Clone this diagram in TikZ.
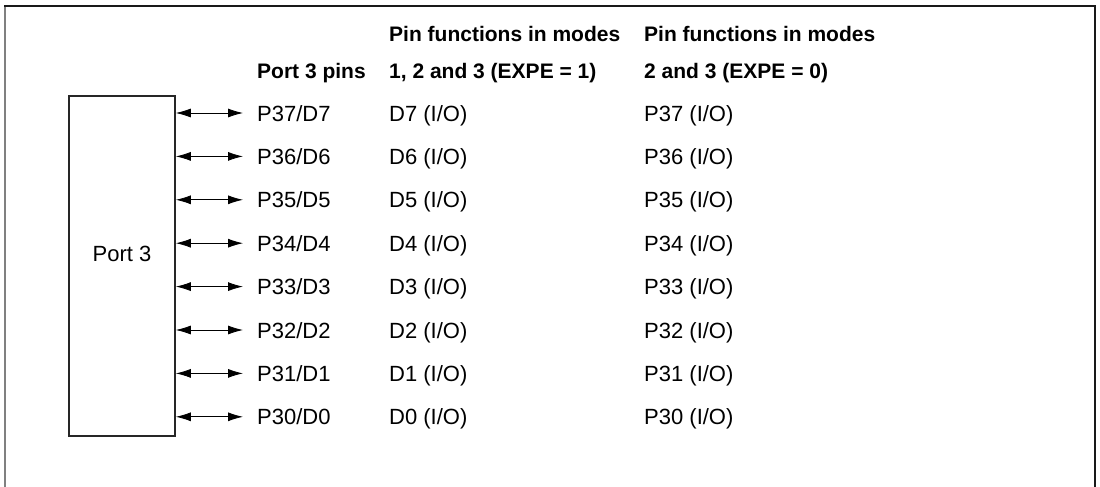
\documentclass[tikz,border=0pt]{standalone}
\usepackage{fontspec}
\setmainfont{Liberation Sans}
\usetikzlibrary{arrows.meta, positioning}

\begin{document}
\begin{tikzpicture}[x=1pt, y=-1pt,
		pinlabel/.style={anchor=west, inner xsep=14pt, inner ysep=0pt, text height=16pt, text depth=0pt, font=\fontsize{22}{26}\selectfont},
		funclabel/.style={anchor=west, inner sep=0pt, text height=16pt, text depth=0pt, font=\fontsize{22}{26}\selectfont},
		headlabel/.style={anchor=base west, inner sep=0pt, align=left, font=\bfseries\fontsize{21}{37}\selectfont},
		portbox/.style={draw=black!85, line width=1.6pt, minimum width=106pt, minimum height=340pt, inner sep=0pt},
		pinarrow/.style={{Latex[length=15pt,width=9pt]}-{Latex[length=15pt,width=9pt]}, line width=0.8pt}]
			% Rahmen
			\useasboundingbox (0,0) rectangle (1100,487);
			\draw[gray, line width=2pt] (5,487) -- (5,6);
			\draw[black!90, line width=1.5pt] (4,6) -- (1095,6) -- (1095,487);
			
			% Port-Block
			\node[portbox] (port) at (122,266) {};
			\node[font=\fontsize{22}{26}\selectfont] (portname) at (122,254) {Port 3};
			
			% Kopfzeilen
			\node[headlabel] (pinhead) at (257,78) {Port 3 pins};
			\node[headlabel] (exphead) at (389,78) {Pin functions in modes\\1, 2 and 3 (EXPE = 1)};
			\node[headlabel] (sglhead) at (644,78) {Pin functions in modes\\2 and 3 (EXPE = 0)};
			
			% Pins und Funktionen
			\foreach \n [count=\i from 0] in {7,6,5,4,3,2,1,0} {
				\pgfmathsetmacro{\ypos}{113+43.4*\i}
				\node[pinlabel] (pin\n) at (243,\ypos) {P3\n/D\n};
				\node[funclabel] (exp\n) at (389,\ypos) {D\n\ (I/O)};
				\node[funclabel] (sgl\n) at (644,\ypos) {P3\n\ (I/O)};
				\draw[pinarrow] (port.east |- pin\n.west) -- (pin\n.west);
			}
		\end{tikzpicture}
\end{document}
